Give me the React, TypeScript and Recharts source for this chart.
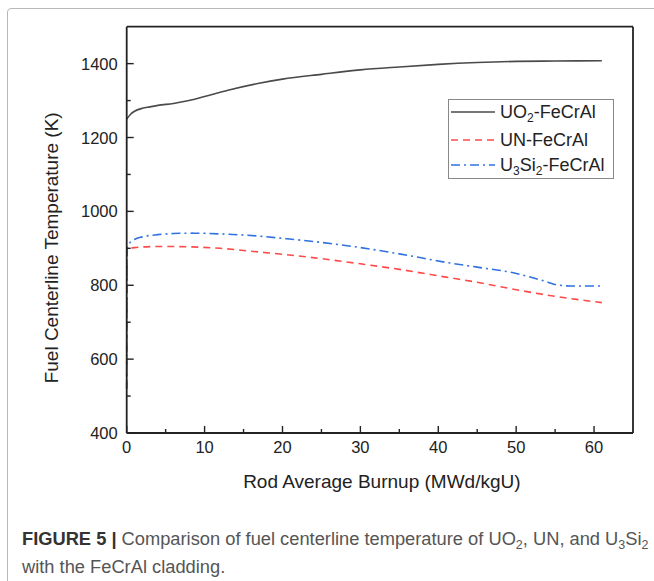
import React from 'react';
import { LineChart, Line, XAxis, YAxis, ReferenceLine, Legend, Label } from 'recharts';

// ---- data ----
const uo2Burnup = [0, 0.5, 1, 2, 3, 4, 6, 8, 10, 13, 17, 20, 25, 30, 35, 40, 45, 50, 55, 61];
const uo2Temp = [1250, 1263, 1271, 1279, 1283, 1287, 1292, 1300, 1311, 1328, 1347, 1358, 1371, 1383, 1391, 1398, 1403, 1406, 1407, 1408];

const unBurnup = [0, 0.05, 1, 4, 8, 12, 17, 20, 25, 30, 35, 41, 45, 50, 55, 58, 61];
const unTemp = [520, 898, 902, 905, 904, 900, 890, 884, 872, 858, 843, 822, 808, 788, 770, 761, 753];

const u3si2Burnup = [0, 0.05, 0.3, 1, 2, 4, 6, 8.5, 12, 17, 20, 25, 30, 35, 41, 45, 50, 52, 54, 55, 57, 61];
const u3si2Temp = [520, 900, 912, 924, 931, 937, 940, 941, 939, 933, 927, 916, 902, 885, 862, 849, 832, 821, 809, 802, 798, 798];

const xTicks = [0, 5, 10, 15, 20, 25, 30, 35, 40, 45, 50, 55, 60];
const xTickLabels = ['0', '', '10', '', '20', '', '30', '', '40', '', '50', '', '60'];
const yTicks = [400, 500, 600, 700, 800, 900, 1000, 1100, 1200, 1300, 1400];
const yTickLabels = ['400', '', '600', '', '800', '', '1000', '', '1200', '', '1400'];

const toPoints = (xs: number[], ys: number[]) => xs.map((x, i) => ({ x, y: ys[i] }));
const uo2Data = toPoints(uo2Burnup, uo2Temp);
const unData = toPoints(unBurnup, unTemp);
const u3si2Data = toPoints(u3si2Burnup, u3si2Temp);

const FONT = '"Liberation Sans", Arial, Helvetica, sans-serif';
const AXIS = '#222';

const series = [
  { key: 'uo2', color: '#4a4a4a', dash: undefined as string | undefined, label: <>UO<sub style={{ fontSize: 12, verticalAlign: -4 }}>2</sub>-FeCrAl</> },
  { key: 'un', color: '#ff4a4a', dash: '7 5', label: <>UN-FeCrAl</> },
  { key: 'u3si2', color: '#2f72e0', dash: '9 4 2 4', label: <>U<sub style={{ fontSize: 12, verticalAlign: -4 }}>3</sub>Si<sub style={{ fontSize: 12, verticalAlign: -4 }}>2</sub>-FeCrAl</> },
];

const XTick = (props: any) => {
  const { x, y, payload } = props;
  const lbl = xTickLabels[xTicks.indexOf(payload.value)] ?? '';
  const major = lbl !== '';
  return (
    <g>
      <line x1={x} y1={y} x2={x} y2={y - (major ? 7 : 4)} stroke={AXIS} strokeWidth={1.4} />
      {major && (
        <text x={x} y={y + 20} textAnchor="middle" fontSize={16.5} fill="#222" fontFamily={FONT}>{lbl}</text>
      )}
    </g>
  );
};

const YTick = (props: any) => {
  const { x, y, payload } = props;
  const lbl = yTickLabels[yTicks.indexOf(payload.value)] ?? '';
  const major = lbl !== '';
  return (
    <g>
      <line x1={x} y1={y} x2={x + (major ? 7 : 4)} y2={y} stroke={AXIS} strokeWidth={1.4} />
      {major && (
        <text x={x - 9} y={y + 6} textAnchor="end" fontSize={16.5} fill="#222" fontFamily={FONT}>{lbl}</text>
      )}
    </g>
  );
};

const LegendBox = () => {
  const rows = [12.4, 40, 65];
  return (
    <div style={{ position: 'relative', width: 166, height: 80, border: '1px solid #888', boxSizing: 'border-box', background: '#fff', fontFamily: FONT }}>
      {series.map((s, i) => (
        <div key={s.key} style={{ position: 'absolute', left: 0, top: rows[i] - 11, height: 22, width: 164 }}>
          <svg width={46} height={22} style={{ position: 'absolute', left: 1, top: 0 }}>
            <line x1={1} y1={11} x2={45} y2={11} stroke={s.color} strokeWidth={1.5} strokeDasharray={s.dash} />
          </svg>
          <span style={{ position: 'absolute', left: 51, top: 0, lineHeight: '22px', fontSize: 18, color: '#222', whiteSpace: 'nowrap' }}>{s.label}</span>
        </div>
      ))}
    </div>
  );
};

const YLabel = (props: any) => {
  const vb = props.viewBox;
  const cx = vb.x - 15;
  const cy = vb.y + vb.height / 2 + 18;
  return (
    <text x={cx} y={cy} transform={`rotate(-90 ${cx} ${cy})`} textAnchor="middle" dominantBaseline="central" fontSize={19} fill="#222" fontFamily={FONT}>
      Fuel Centerline Temperature (K)
    </text>
  );
};

const XLabel = (props: any) => {
  const vb = props.viewBox;
  return (
    <text x={vb.x + vb.width / 2 + 2} y={vb.y + 55} textAnchor="middle" fontSize={19} fill="#222" fontFamily={FONT}>
      Rod Average Burnup (MWd/kgU)
    </text>
  );
};

const subStyle = { fontSize: 12.5, verticalAlign: -3.5 } as const;

export default function App() {
  return (
    <div style={{ position: 'absolute', left: 0, top: 0, width: 654, height: 581, background: '#fff', overflow: 'hidden', fontFamily: FONT }}>
      <div style={{ position: 'absolute', left: 7, top: 8, width: 720, height: 700, border: '1.5px solid #b8b8b8', borderRadius: 4 }} />
      <div style={{ position: 'absolute', left: 0, top: 0 }}>
        <LineChart width={654} height={581} margin={{ top: 26.7, right: 21, bottom: 118, left: 66.7 }}>
          <XAxis
            type="number"
            dataKey="x"
            domain={[0, 65]}
            ticks={xTicks}
            interval={0}
            tickSize={0}
            tickMargin={0}
            tickLine={false}
            tick={<XTick />}
            height={30}
            axisLine={{ stroke: AXIS, strokeWidth: 1.8 }}
            allowDuplicatedCategory={false}
          >
            <Label content={<XLabel />} />
          </XAxis>
          <YAxis
            type="number"
            domain={[400, 1500]}
            ticks={yTicks}
            interval={0}
            tickSize={0}
            tickMargin={0}
            tickLine={false}
            tick={<YTick />}
            width={60}
            axisLine={{ stroke: AXIS, strokeWidth: 1.8 }}
          >
            <Label content={<YLabel />} />
          </YAxis>
          <ReferenceLine y={1500} stroke={AXIS} strokeWidth={1.8} />
          <ReferenceLine x={65} stroke={AXIS} strokeWidth={1.8} />
          <Line data={uo2Data} dataKey="y" name="UO2-FeCrAl" type="monotone" stroke={series[0].color} strokeWidth={1.6} dot={false} isAnimationActive={false} />
          <Line data={unData} dataKey="y" name="UN-FeCrAl" type="monotone" stroke={series[1].color} strokeWidth={1.6} strokeDasharray={series[1].dash} dot={false} isAnimationActive={false} />
          <Line data={u3si2Data} dataKey="y" name="U3Si2-FeCrAl" type="monotone" stroke={series[2].color} strokeWidth={1.6} strokeDasharray={series[2].dash} dot={false} isAnimationActive={false} />
          <Legend
            layout="horizontal"
            verticalAlign="middle"
            content={<LegendBox />}
            wrapperStyle={{ position: 'absolute', left: 448, top: 98.5, width: 166, height: 80 }}
          />
        </LineChart>
      </div>
      <div style={{ position: 'absolute', left: 22, top: 528, width: 640, fontSize: 18.3, lineHeight: '21px', color: '#555', fontFamily: FONT, whiteSpace: 'nowrap' }}>
        <div><b style={{ color: '#333' }}>FIGURE 5 |</b> Comparison of fuel centerline temperature of UO<sub style={subStyle}>2</sub>, UN, and U<sub style={subStyle}>3</sub>Si<sub style={subStyle}>2</sub></div>
        <div>with the FeCrAl cladding.</div>
      </div>
    </div>
  );
}
